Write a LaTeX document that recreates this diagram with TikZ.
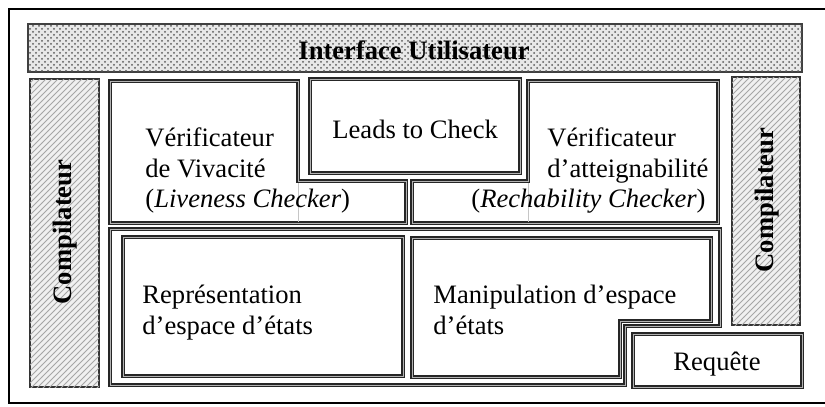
\documentclass[tikz,border=0pt]{standalone}
\usepackage{fontspec}
\setmainfont{Liberation Serif}
\usetikzlibrary{patterns}

\tikzset{
  blockline/.style={draw=black!85, line width=0.6pt, double=gray!60,
    double distance=0.35pt, line join=miter},
  hatchbox/.style={draw=black!80, line width=0.9pt, fill=gray!12,
    postaction={pattern=north east lines, pattern color=gray!70}},
  dotband/.style={draw=black!75, line width=0.9pt, fill=gray!18,
    postaction={pattern=crosshatch dots, pattern color=black!65}},
  txt/.style={font=\fontsize{13.3}{15}\selectfont, inner sep=0pt, anchor=base west},
  boldtxt/.style={font=\fontsize{13.3}{15}\selectfont\bfseries, inner sep=0pt},
  ghost/.style={draw=gray!45, line width=0.4pt}
}

\begin{document}
\begin{tikzpicture}[x=0.5pt, y=-0.5pt]
\useasboundingbox (0,0) rectangle (825,407);
\clip (0,0) rectangle (825,407);

% outer frame (its right side lies past the page edge)
\draw[line width=1.3pt, draw=black] (9,9) rectangle (860,403);

% user interface band
\draw[dotband] (28,24) rectangle (802,72);
\node[boldtxt] (ui) at (414,50) {Interface Utilisateur};

% compiler columns
\draw[hatchbox] (30,79) rectangle (99,387);
\node[boldtxt, rotate=90] (compl) at (65,232) {Compilateur};
\draw[hatchbox] (732,77) rectangle (800,325);
\node[boldtxt, rotate=90] (compr) at (767,200) {Compilateur};

% checker blocks
\draw[blockline] (110,81) -- (298,81) -- (298,181) -- (406,181) -- (406,223) -- (110,223) -- cycle;
\draw[blockline] (310,79) rectangle (520,173);
\draw[blockline] (528,81) -- (718,81) -- (718,223) -- (412,223) -- (412,181) -- (528,181) -- cycle;
\draw[ghost] (298,183) -- (298,222);
\draw[ghost] (528,183) -- (528,222);

\node[txt] (liv1) at (145,146) {Vérificateur};
\node[txt] (liv2) at (145,177) {de Vivacité};
\node[txt] (liv3) at (145,207) {(\textit{Liveness Checker})};

\node[txt] (leads) at (332,138) {Leads to Check};

\node[txt] (rch1) at (547,146) {Vérificateur};
\node[txt] (rch2) at (547,177) {d’atteignabilité};
\node[txt, anchor=base east] (rch3) at (706,207) {(\textit{Rechability Checker})};

% state space blocks
\draw[blockline] (110,229) -- (720,229) -- (720,326) -- (625,326) -- (625,385) -- (110,385) -- cycle;
\draw[blockline] (123,237) rectangle (403,376);
\draw[blockline] (412,238) -- (711,238) -- (711,321) -- (620,321) -- (620,377) -- (412,377) -- cycle;

\node[txt] (rep1) at (142,303) {Représentation};
\node[txt] (rep2) at (142,334) {d’espace d’états};
\node[txt] (man1) at (433,303) {Manipulation d’espace};
\node[txt] (man2) at (433,334) {d’états};

% query block
\draw[blockline] (633,334) rectangle (802,387);
\node[txt, anchor=base] (req) at (717,370) {Requête};
\end{tikzpicture}
\end{document}
